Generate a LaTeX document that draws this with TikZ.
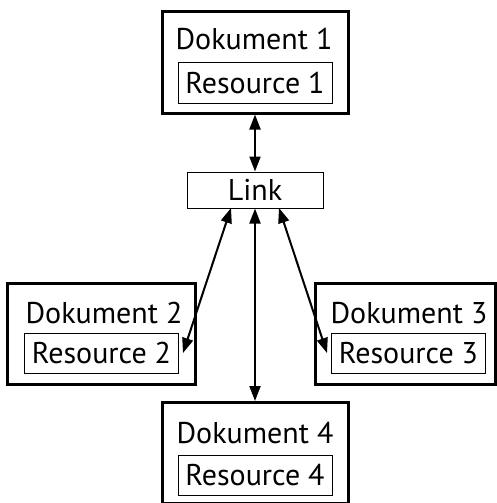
\documentclass[tikz,border=0pt]{standalone}
\usepackage{fontspec}
\setmainfont{PT Sans}
\usetikzlibrary{arrows.meta}
\begin{document}
\begin{tikzpicture}[x=1pt,y=-1pt,
  txt/.style={font=\fontsize{30}{32}\selectfont},
  docbox/.style={draw=black,line width=3pt,minimum width=186pt,minimum height=101pt,inner sep=0pt,anchor=center},
  resbox/.style={txt,draw=black,line width=1pt,minimum width=154pt,minimum height=40pt,inner sep=0pt},
  linkbox/.style={txt,draw=black,line width=1pt,minimum width=136pt,minimum height=36pt,inner sep=0pt},
  doclabel/.style={txt,inner sep=0pt,anchor=base},
  conn/.style={line width=2pt,{Triangle[length=15pt,width=11pt]}-{Triangle[length=15pt,width=11pt]}}]
\useasboundingbox (0,0) rectangle (497,503);
% documents
\node[docbox] (d1) at (255,62.5) {};
\node[docbox,minimum width=188pt] (d2) at (101,333.5) {};
\node[docbox,minimum width=180pt] (d3) at (405,333.5) {};
\node[docbox] (d4) at (255,453) {};
\node[doclabel] (t1) at (254,50) {Dokument 1};
\node[doclabel] (t2) at (104,323) {Dokument 2};
\node[doclabel] (t3) at (409,323) {Dokument 3};
\node[doclabel] (t4) at (255,443) {Dokument 4};
\node[resbox] (r1) at (255,83) {Resource 1};
\node[resbox] (r2) at (101.5,353) {Resource 2};
\node[resbox] (r3) at (408.5,353.5) {Resource 3};
\node[resbox] (r4) at (255,475) {Resource 4};
\node[linkbox] (link) at (255,190) {Link};
% connector end points
\coordinate (l2) at (231,208);
\coordinate (l3) at (279,208);
\coordinate (e2) at (183,353);
\coordinate (e3) at (327,353);
\draw[conn] (d1.south) -- (link.north);
\draw[conn] (l2) -- (e2);
\draw[conn] (l3) -- (e3);
\draw[conn] (link.south) -- (d4.north);
\end{tikzpicture}
\end{document}
